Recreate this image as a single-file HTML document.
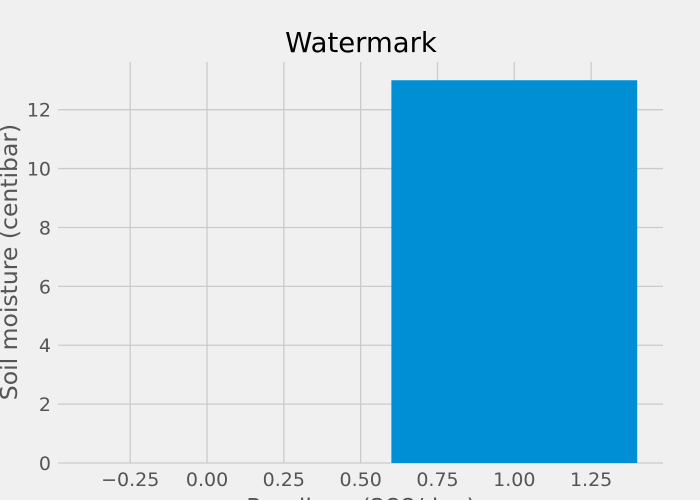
<!DOCTYPE html>
<html><head><meta charset="utf-8"><style>
body{margin:0;background:#f0f0f0;}
svg{display:block;font-family:"DejaVu Sans","Liberation Sans",sans-serif;}
</style></head><body>
<svg id="chart" width="700" height="500">
<rect width="700" height="500" fill="#f0f0f0"/>
<g id="grid"></g><g id="bars"></g><g id="ticks"></g>
<text x="361" y="52" font-size="27.5" text-anchor="middle" fill="#000">Watermark</text>
<text transform="translate(17,262) rotate(-90)" font-size="23.5" text-anchor="middle" fill="#555">Soil moisture (centibar)</text>
<text x="361" y="515" font-size="23.5" text-anchor="middle" fill="#555">Readings (288/day)</text>
</svg>
<script>
const categories=[1];
const values=[13];
const barWidth=0.8;
const xTicks=[-0.25,0,0.25,0.5,0.75,1,1.25];
const xTickLabels=["\u22120.25","0.00","0.25","0.50","0.75","1.00","1.25"];
const yTicks=[0,2,4,6,8,10,12];
const yTickLabels=["0","2","4","6","8","10","12"];
const L=58,R=663,T=62,B=463;
const xmin=-0.485,xmax=1.484,ymin=0,ymax=13.62;
const xs=v=>L+(v-xmin)/(xmax-xmin)*(R-L);
const ys=v=>B-(v-ymin)/(ymax-ymin)*(B-T);
const NS="http://www.w3.org/2000/svg";
function mk(t,a,p){const e=document.createElementNS(NS,t);for(const k in a)e.setAttribute(k,a[k]);p.appendChild(e);return e;}
const grid=document.getElementById('grid'),bars=document.getElementById('bars'),ticks=document.getElementById('ticks');
xTicks.forEach((v,i)=>{
 const l=mk('line',{x1:xs(v),x2:xs(v),y1:T,y2:B,stroke:'#cbcbcb','stroke-width':1.3},grid);
 
 
 const t=mk('text',{x:xs(v),y:486,'font-size':19,'text-anchor':'middle',fill:'#555'},ticks);
 t.textContent=xTickLabels[i];
 
 
});
yTicks.forEach((v,i)=>{
 const l=mk('line',{x1:L,x2:R,y1:ys(v),y2:ys(v),stroke:'#cbcbcb','stroke-width':1.3},grid);
 
 
 const t=mk('text',{x:51,y:ys(v)+7,'font-size':19,'text-anchor':'end',fill:'#555'},ticks);
 t.textContent=yTickLabels[i];
 
 
});
categories.forEach((c,i)=>{
 const b=mk('rect',{x:xs(c-barWidth/2),y:ys(values[i]),width:xs(c+barWidth/2)-xs(c-barWidth/2),height:ys(0)-ys(values[i]),fill:'#008fd5'},bars);
 
 
});
</script>
</body></html>
